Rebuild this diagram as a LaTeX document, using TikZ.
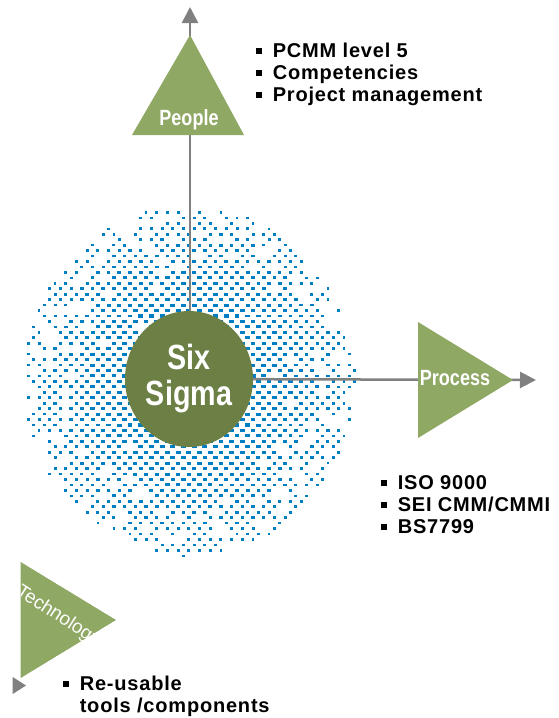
\documentclass[tikz,border=0pt]{standalone}
\usepackage{fontspec}
\setmainfont{Liberation Sans}
\newfontfamily\narrowfont[FakeStretch=0.82]{Liberation Sans}
\newfontfamily\listfont[LetterSpace=4]{Liberation Sans}
\usetikzlibrary{arrows.meta,shapes.geometric}
\definecolor{dotblue}{RGB}{0,126,196}
\definecolor{trigreen}{RGB}{143,168,100}
\definecolor{coregreen}{RGB}{108,128,70}
\definecolor{axisgray}{RGB}{128,128,128}
\newcommand\sqbullet{\rule[0.16em]{0.28em}{0.28em}}
\tikzset{
  axisline/.style={draw=axisgray,line width=2.5pt,-{Triangle[length=16pt,width=16pt]}},
  tri/.style={fill=trigreen},
  trilabel/.style={text=white,font=\narrowfont\bfseries\fontsize{22}{24}\selectfont,inner sep=0pt},
  listtext/.style={font=\listfont\bfseries\fontsize{20}{22}\selectfont,inner sep=0pt,anchor=base west}
}
\begin{document}
\begin{tikzpicture}[x=1pt,y=-1pt]
\useasboundingbox (0,0) rectangle (559,718);
% halftone field
\pgfmathsetseed{7}
\foreach \j in {0,...,64}{
 \foreach \i in {0,...,31}{
  \pgfmathsetmacro\xx{23+\i*10.7+mod(\j,2)*5.35}
  \pgfmathsetmacro\yy{207+\j*5.45}
  \pgfmathsetmacro\rr{sqrt(((\xx-189)/166)^2+((\yy-381)/175)^2)}
  \pgfmathsetmacro\keep{(\rr<1)*(rnd>0.4*\rr^4)}
  \ifdim\keep pt>0.5pt
    \pgfmathsetmacro\ww{2.7+3.6*(1-\rr)}
    \pgfmathsetmacro\hh{2.6+0.8*(1-\rr)}
    \fill[dotblue] (\xx-\ww/2,\yy-\hh/2) rectangle ++(\ww,\hh);
  \fi
 }
}
\coordinate (c) at (189,379);
\coordinate (peopletip) at (190,7);
\coordinate (processtip) at (536,380);
\draw[axisline] (c) -| (peopletip);
\draw[axisline] (c) -- (processtip);
% triangles
\fill[tri] (132,135) -- (190,35) -- (244,135) -- cycle;
\fill[tri] (418,322) -- (513,380) -- (418,438) -- cycle;
\begin{scope}
\clip (20.7,562) -- (116,620) -- (20.7,678) -- cycle;
\fill[tri] (20.7,562) -- (116,620) -- (20.7,678) -- cycle;
\node[text=white,font=\fontsize{19}{21}\selectfont,rotate=-33,anchor=base west,inner sep=0pt] (tech) at (15,594) {Technology};
\end{scope}
\fill[axisgray] (12.7,677) -- (26,685.5) -- (12.7,694) -- cycle;
\node[trilabel] (people) at (189,120) {People};
\node[trilabel] (process) at (455,378) {Process};
% core
\node[ellipse,fill=coregreen,minimum width=128pt,minimum height=136pt,inner sep=0pt,
  text=white,align=center,font=\narrowfont\bfseries\fontsize{35}{36}\selectfont] (six) at (c) {Six\\Sigma};
% lists
\node[listtext] (plist) at (256,57) {\begin{tabular}[t]{@{}l@{\hspace{11pt}}l@{}}
\sqbullet & PCMM level 5\\ \sqbullet & Competencies\\ \sqbullet & Project management\end{tabular}};
\node[listtext] (qlist) at (381,489) {\begin{tabular}[t]{@{}l@{\hspace{11pt}}l@{}}
\sqbullet & ISO 9000\\ \sqbullet & SEI CMM/CMMI\\ \sqbullet & BS7799\end{tabular}};
\node[listtext] (tlist) at (63,690) {\begin{tabular}[t]{@{}l@{\hspace{11pt}}l@{}}
\sqbullet & Re-usable\\ & tools /components\end{tabular}};
\end{tikzpicture}
\end{document}
